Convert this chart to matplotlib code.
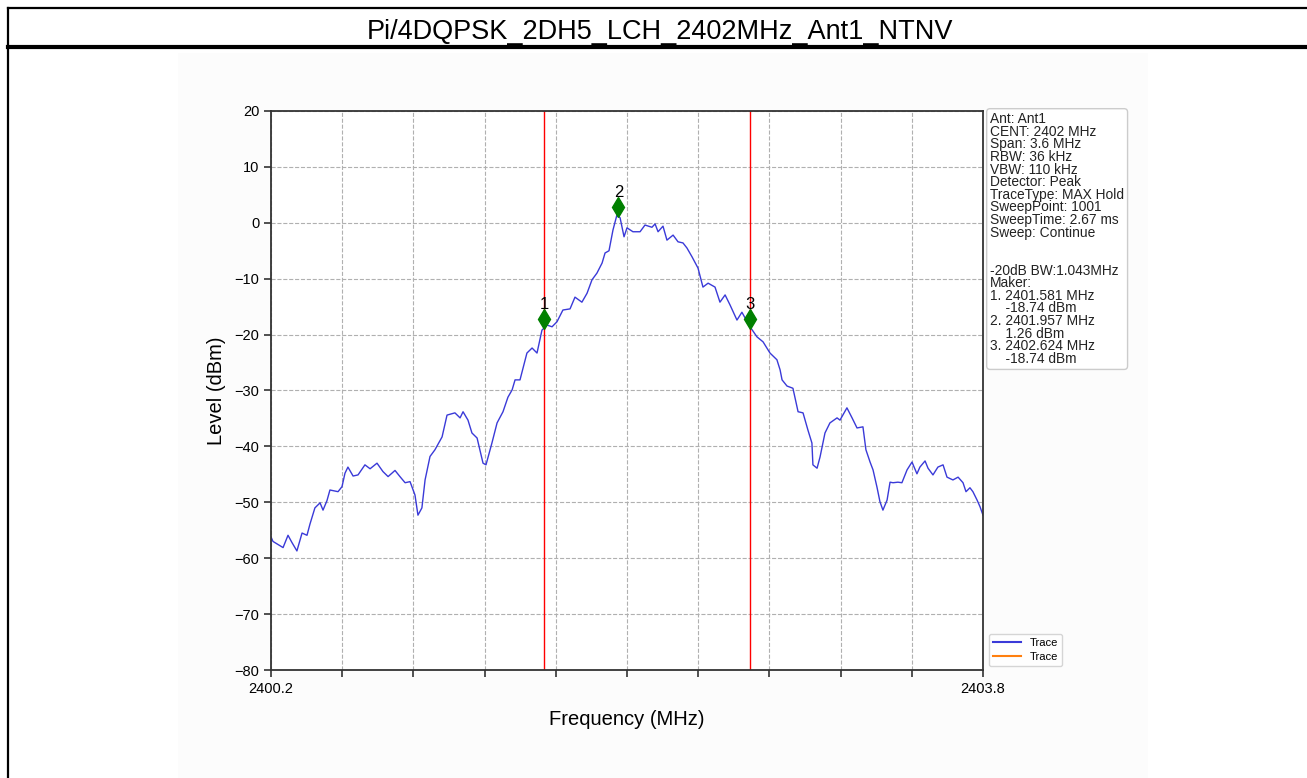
import numpy as np
import matplotlib
matplotlib.use("Agg")
import matplotlib.pyplot as plt
from matplotlib.lines import Line2D
from matplotlib.patches import Rectangle

plt.rcParams['font.family'] = ['Liberation Sans', 'DejaVu Sans']

title = "Pi/4DQPSK_2DH5_LCH_2402MHz_Ant1_NTNV"

trace_freq = [
    2400.200, 2400.210, 2400.261, 2400.286, 2400.306, 2400.331, 2400.357, 2400.382,
    2400.397, 2400.422, 2400.448, 2400.463, 2400.483, 2400.498, 2400.539, 2400.559,
    2400.574, 2400.589, 2400.615, 2400.640, 2400.675, 2400.701, 2400.736, 2400.766,
    2400.792, 2400.827, 2400.852, 2400.878, 2400.903, 2400.928, 2400.943, 2400.963,
    2400.979, 2401.004, 2401.029, 2401.065, 2401.090, 2401.130, 2401.156, 2401.171,
    2401.196, 2401.216, 2401.242, 2401.272, 2401.287, 2401.317, 2401.343, 2401.373,
    2401.398, 2401.419, 2401.434, 2401.459, 2401.494, 2401.520, 2401.545, 2401.570,
    2401.596, 2401.621, 2401.646, 2401.676, 2401.712, 2401.737, 2401.772, 2401.798,
    2401.823, 2401.848, 2401.874, 2401.889, 2401.909, 2401.929, 2401.949, 2401.965,
    2401.985, 2402.000, 2402.030, 2402.066, 2402.091, 2402.126, 2402.142, 2402.157,
    2402.182, 2402.202, 2402.233, 2402.258, 2402.283, 2402.303, 2402.329, 2402.359,
    2402.384, 2402.410, 2402.445, 2402.470, 2402.496, 2402.521, 2402.556, 2402.581,
    2402.622, 2402.657, 2402.688, 2402.723, 2402.758, 2402.774, 2402.784, 2402.809,
    2402.839, 2402.865, 2402.890, 2402.915, 2402.935, 2402.940, 2402.961, 2402.976,
    2403.001, 2403.026, 2403.062, 2403.077, 2403.112, 2403.138, 2403.163, 2403.193,
    2403.208, 2403.229, 2403.244, 2403.264, 2403.279, 2403.294, 2403.315, 2403.330,
    2403.345, 2403.370, 2403.390, 2403.416, 2403.441, 2403.466, 2403.481, 2403.507,
    2403.522, 2403.547, 2403.572, 2403.598, 2403.618, 2403.648, 2403.674, 2403.699,
    2403.714, 2403.734, 2403.749, 2403.770, 2403.785, 2403.800,
]
trace_level = [
    -56.2, -57.0, -58.1, -55.9, -57.2, -58.7, -55.5, -55.9,
    -53.9, -51.0, -50.1, -51.4, -49.7, -47.8, -48.1, -47.2,
    -44.8, -43.7, -45.3, -45.1, -43.3, -44.0, -43.0, -44.5,
    -45.4, -44.3, -45.4, -46.5, -46.3, -48.7, -52.3, -51.0,
    -46.0, -41.8, -40.6, -38.3, -34.4, -34.0, -34.9, -33.8,
    -35.3, -37.6, -38.5, -43.0, -43.3, -39.4, -35.8, -33.8,
    -31.2, -29.9, -28.1, -28.1, -23.3, -22.4, -23.3, -19.2,
    -18.3, -18.6, -17.7, -15.6, -15.4, -13.3, -14.2, -12.6,
    -10.2, -9.0, -7.2, -5.4, -5.0, -1.3, 1.4, 0.9,
    -2.5, -0.9, -1.6, -1.6, -0.4, -0.8, -0.2, -1.6,
    -0.6, -3.1, -2.2, -3.4, -3.6, -4.5, -6.1, -8.1,
    -11.5, -10.8, -11.5, -14.2, -12.9, -14.7, -17.4, -16.0,
    -18.6, -20.4, -21.3, -23.3, -24.5, -26.3, -28.1, -29.2,
    -29.6, -33.8, -34.0, -37.1, -39.4, -43.3, -43.9, -41.9,
    -37.6, -35.8, -34.9, -35.3, -33.1, -34.9, -36.7, -36.5,
    -40.6, -42.8, -44.2, -47.3, -49.9, -51.4, -49.6, -46.4,
    -46.5, -46.4, -46.5, -44.2, -42.8, -44.9, -43.7, -42.6,
    -43.9, -45.1, -43.7, -43.3, -45.5, -46.0, -45.5, -46.5,
    -48.1, -47.4, -48.1, -49.6, -50.8, -52.3,
]

marker_ids = ["1", "2", "3"]
marker_freq = [2401.581, 2401.957, 2402.624]
marker_level = [-18.74, 1.26, -18.74]
red_lines = [2401.581, 2402.624]

info_lines = [
    "Ant: Ant1", "CENT: 2402 MHz", "Span: 3.6 MHz", "RBW: 36 kHz", "VBW: 110 kHz",
    "Detector: Peak", "TraceType: MAX Hold", "SweepPoint: 1001", "SweepTime: 2.67 ms",
    "Sweep: Continue", "", "", "-20dB BW:1.043MHz", "Maker:",
    "1. 2401.581 MHz", "    -18.74 dBm", "2. 2401.957 MHz", "    1.26 dBm",
    "3. 2402.624 MHz", "    -18.74 dBm",
]

x_min, x_max = 2400.2, 2403.8
y_min, y_max = -80, 20

W, H = 1307, 778
fig = plt.figure(figsize=(W / 100, H / 100), dpi=100)
fig.patch.set_facecolor('white')

# inner panel background
fig.add_artist(Rectangle((178 / W, 0), (1148 - 178) / W, 1 - 53 / H,
                         transform=fig.transFigure, facecolor='#fcfcfc',
                         edgecolor='none', zorder=0))
# frame lines
fig.add_artist(Line2D([8 / W, 1], [1 - 7.5 / H, 1 - 7.5 / H], transform=fig.transFigure,
                      color='black', lw=1.6))
fig.add_artist(Line2D([8 / W, 8 / W], [0, 1 - 7.5 / H], transform=fig.transFigure,
                      color='black', lw=1.6))
fig.add_artist(Line2D([8 / W, 1], [1 - 47 / H, 1 - 47 / H], transform=fig.transFigure,
                      color='black', lw=3))
fig.text(660 / W, 1 - 32 / H, title, ha='center', va='center', fontsize=19.5)

ax = fig.add_axes([271 / W, 1 - 670 / H, (983 - 271) / W, (670 - 111) / H])
ax.set_facecolor('white')
line_trace, = ax.plot(trace_freq, trace_level, color='#3a3ad8', lw=1.0, label='Trace')
line_empty, = ax.plot([], [], color='#ff7f0e', lw=1.0, label='Trace')

for f in red_lines:
    ax.axvline(f, color='red', lw=1.0)

for mid, f, lv in zip(marker_ids, marker_freq, marker_level):
    ax.plot([f], [lv + 1.5], marker='d', color='green', markersize=10, linestyle='none')
    ax.text(f, lv + 2.8, mid, ha='center', va='bottom', fontsize=12)

ax.set_xlim(x_min, x_max)
ax.set_ylim(y_min, y_max)
xt = np.linspace(x_min, x_max, 11)
ax.set_xticks(xt)
ax.set_xticklabels(["2400.2"] + [""] * 9 + ["2403.8"])
ax.set_yticks(np.arange(-80, 21, 10))
ax.tick_params(axis='both', labelsize=10.5, length=5, width=1.2, color='#333333')
ax.grid(True, linestyle='--', color='#b0b0b0', lw=0.8)
for s in ax.spines.values():
    s.set_color('#333333')
    s.set_linewidth(1.3)

ax.set_xlabel("Frequency (MHz)", fontsize=14.5, labelpad=10)
ax.set_ylabel("Level (dBm)", fontsize=14.5, labelpad=6)

ax.text(1.01, 0.998, "\n".join(info_lines), transform=ax.transAxes, ha='left', va='top',
        fontsize=9.9, linespacing=0.875, color='#222222',
        bbox=dict(boxstyle='round,pad=0.25', fc='white', ec='#cccccc', lw=1))

leg = ax.legend(handles=[line_trace, line_empty], loc='lower left', bbox_to_anchor=(1.0, -0.003),
                fontsize=8.1, handlelength=2.5, frameon=True, edgecolor='#cccccc',
                borderpad=0.35, labelspacing=0.4)
for h in leg.get_lines():
    h.set_linewidth(1.5)

fig.savefig("out.png", dpi=100)
